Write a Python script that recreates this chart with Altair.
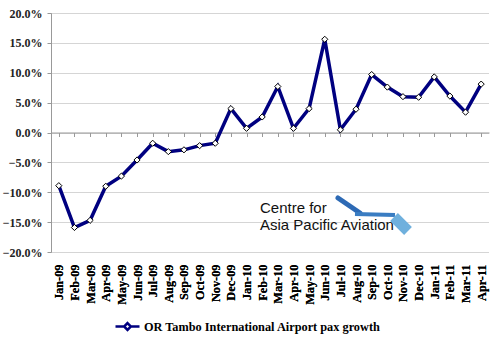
import altair as alt
import pandas as pd

months = ["Jan-09", "Feb-09", "Mar-09", "Apr-09", "May-09", "Jun-09", "Jul-09",
          "Aug-09", "Sep-09", "Oct-09", "Nov-09", "Dec-09", "Jan-10", "Feb-10",
          "Mar-10", "Apr-10", "May-10", "Jun-10", "Jul-10", "Aug-10", "Sep-10",
          "Oct-10", "Nov-10", "Dec-10", "Jan-11", "Feb-11", "Mar-11", "Apr-11"]
growth = [-8.9, -15.9, -14.7, -9.0, -7.3, -4.6, -1.8, -3.2, -2.9, -2.2, -1.8,
          4.0, 0.7, 2.6, 7.7, 0.7, 4.0, 15.6, 0.45, 3.9, 9.7, 7.6, 6.0, 5.9,
          9.3, 6.1, 3.4, 8.1]
series_name = "OR Tambo International Airport pax growth"
y_ticks = [-0.20, -0.15, -0.10, -0.05, 0.0, 0.05, 0.10, 0.15, 0.20]

df = pd.DataFrame({"month": months, "value": [g / 100 for g in growth],
                   "series": series_name})

SERIF = "Liberation Serif"
NAVY = "#000080"

yscale = alt.Scale(domain=[-0.2, 0.2], nice=False, zero=False)
y_enc = alt.Y("value:Q", scale=yscale, title=None,
              axis=alt.Axis(values=y_ticks, format=".1%", labelFont=SERIF,
                            labelFontWeight="bold", labelFontSize=12, labelColor="#222",
                            labelPadding=5, tickSize=4, tickColor="#999",
                            domainColor="#999", labelOverlap=False,
                            grid=True, gridColor="#aaa", gridDash=[1, 1], gridWidth=1))
x_labels = alt.X("month:N", sort=months, title=None,
                 axis=alt.Axis(orient="bottom", labelAngle=270, labelAlign="right",
                               labelBaseline="middle", labelFont=SERIF,
                               labelFontWeight="bold", labelFontSize=12.3,
                               labelColor="#000", labelPadding=12, ticks=False,
                               domain=False, grid=False, labelOverlap=False))

base = alt.Chart(df)

line = base.mark_line(strokeWidth=3.5).encode(
    x=x_labels,
    y=y_enc,
    color=alt.Color("series:N", scale=alt.Scale(range=[NAVY]), title=None,
                    legend=alt.Legend(orient="none", legendX=63, legendY=300,
                                      labelFont=SERIF, labelFontWeight="bold",
                                      labelFontSize=12.3, labelColor="#000", labelLimit=0,
                                      symbolType="M-1,0L-0.28,0M0.28,0L1,0M0,-0.28L0.28,0L0,0.28L-0.28,0Z",
                                      symbolSize=576, symbolStrokeWidth=2.5,
                                      symbolFillColor="white", labelOffset=3)),
)

pts = base.mark_point(shape="diamond", filled=True, fill="white", stroke="#000",
                      strokeWidth=1, size=38, opacity=1).encode(
    x=x_labels,
    y=y_enc,
)

zero_axis = base.mark_point(opacity=0).encode(
    x=alt.X("month:N", sort=months, title=None,
            axis=alt.Axis(orient="bottom", offset=-119.5, labels=False, ticks=True,
                          tickSize=4, tickColor="#999", domain=True, domainColor="#999",
                          bandPosition=0, grid=False)),
    y=y_enc,
)

logo1 = alt.Chart(pd.DataFrame({"t": ["Centre for"]})).mark_text(
    font="Liberation Sans", fontSize=15, align="left", baseline="alphabetic",
    color="#111").encode(text="t:N", x=alt.value(209), y=alt.value(200))
logo2 = alt.Chart(pd.DataFrame({"t": ["Asia Pacific Aviation"]})).mark_text(
    font="Liberation Sans", fontSize=15, align="left", baseline="alphabetic",
    color="#111").encode(text="t:N", x=alt.value(209), y=alt.value(217))

one = pd.DataFrame({"a": [1]})
sw1 = alt.Chart(one).mark_rule(color="#2d6ab5", strokeWidth=5, strokeCap="round").encode(
    x=alt.value(287), x2=alt.value(309), y=alt.value(185), y2=alt.value(200))
sw2 = alt.Chart(one).mark_rule(color="#3a7dc2", strokeWidth=4).encode(
    x=alt.value(304), x2=alt.value(344), y=alt.value(201), y2=alt.value(202))
sw3 = alt.Chart(one).mark_rule(color="#6fb0dd", strokeWidth=11).encode(
    x=alt.value(343), x2=alt.value(357), y=alt.value(204), y2=alt.value(218))

chart = alt.layer(zero_axis, line, pts, logo1, logo2, sw1, sw2, sw3).resolve_axis(
    x="independent"
).properties(
    width=438, height=239,
    autosize=alt.AutoSizeParams(type="none"),
    padding={"left": 51, "top": 13, "right": 11, "bottom": 86},
    background="white",
).configure_view(stroke=None)

chart.save("out.html", embed_options={"renderer": "svg", "actions": False})
